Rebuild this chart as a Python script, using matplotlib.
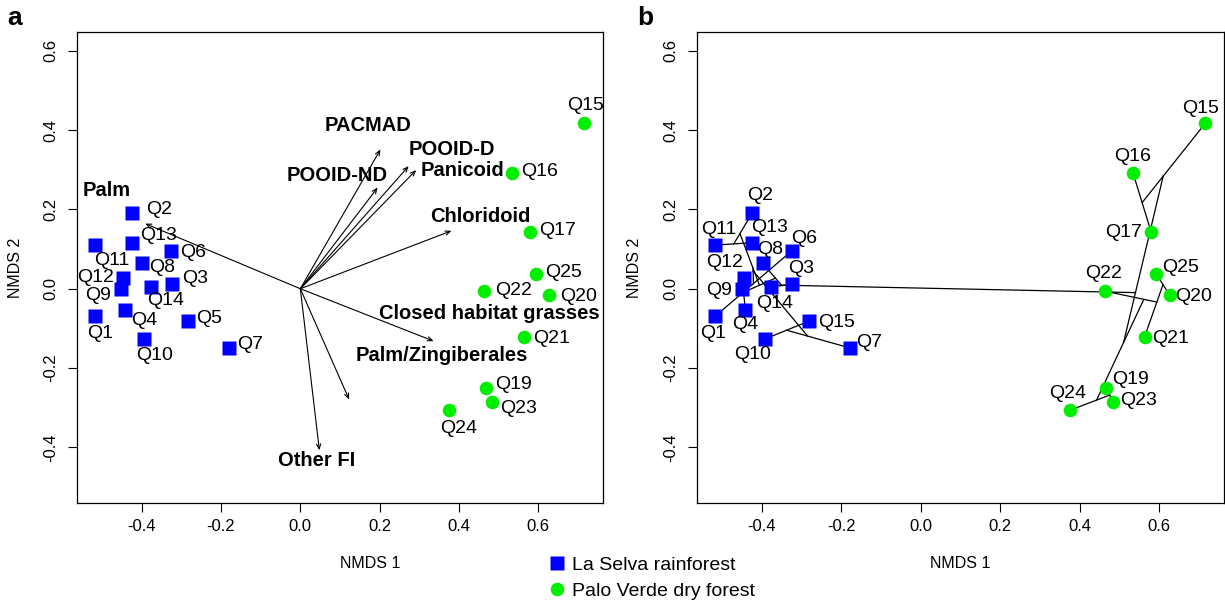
import matplotlib
matplotlib.use("Agg")
import matplotlib.pyplot as plt
from matplotlib.lines import Line2D

plt.rcParams['font.family'] = ['Liberation Sans', 'DejaVu Sans']
plt.rcParams['axes.unicode_minus'] = False

# ---- site scores (NMDS axes 1 and 2) ----
sites = ["Q1", "Q2", "Q3", "Q4", "Q5", "Q6", "Q7", "Q8", "Q9", "Q10", "Q11", "Q12",
         "Q13", "Q14", "Q15", "Q16", "Q17", "Q19", "Q20", "Q21", "Q22", "Q23", "Q24", "Q25"]
nmds1 = [-0.517, -0.424, -0.323, -0.441, -0.282, -0.325, -0.179, -0.398, -0.451, -0.393,
         -0.517, -0.446, -0.424, -0.376, 0.716, 0.534, 0.580, 0.467, 0.626, 0.563,
         0.463, 0.484, 0.376, 0.593]
nmds2 = [-0.069, 0.191, 0.011, -0.053, -0.082, 0.095, -0.149, 0.064, -0.001, -0.127,
         0.110, 0.027, 0.116, 0.005, 0.417, 0.292, 0.142, -0.250, -0.016, -0.122,
         -0.006, -0.286, -0.306, 0.037]
habitat = ["LS"] * 14 + ["PV"] * 10
# labels used on the cluster panel
tree_labels = ["Q1", "Q2", "Q3", "Q4", "Q15", "Q6", "Q7", "Q8", "Q9", "Q10", "Q11", "Q12",
               "Q13", "Q14", "Q15", "Q16", "Q17", "Q19", "Q20", "Q21", "Q22", "Q23", "Q24", "Q25"]

# ---- fitted vectors ----
vec_names = ["Palm", "PACMAD", "POOID-ND", "POOID-D", "Panicoid", "Chloridoid",
             "Closed habitat grasses", "Palm/Zingiberales", "Other FI"]
vec1 = [-0.391, 0.202, 0.195, 0.273, 0.292, 0.381, 0.336, 0.123, 0.048]
vec2 = [0.164, 0.351, 0.255, 0.309, 0.299, 0.146, -0.132, -0.279, -0.407]
vec_label_pos = [(-0.487, 0.248), (0.171, 0.412), (0.093, 0.286), (0.383, 0.351),
                 (0.410, 0.299), (0.454, 0.181), (0.477, -0.063), (0.356, -0.168),
                 (0.042, -0.433)]

# ---- hierarchical clustering merge order (site name or earlier merge number) ----
merges = [
    ("Q11", "Q13"), ("Q2", 1), ("Q9", "Q12"), ("Q4", 3), ("Q3", "Q14"), ("Q8", 5),
    (4, 6), (2, 7), ("Q1", "Q6"), (8, 9), ("Q5", "Q10"), ("Q7", 11), (10, 12),
    ("Q16", "Q17"), ("Q15", 14), ("Q19", "Q23"), ("Q24", 16), ("Q20", "Q25"),
    ("Q21", 18), ("Q22", 19), (20, 17), (15, 21), (13, 22),
]

# ---- label offsets (pixels, x right / y down) ----
off_a = {"Q1": (5, 17), "Q2": (27, -3), "Q3": (23, -6), "Q4": (19, 11), "Q5": (21, -3),
         "Q6": (22, 1), "Q7": (21, -3), "Q8": (20, 4), "Q9": (-23, 6), "Q10": (10, 16),
         "Q11": (17, 15), "Q12": (-28, -1), "Q13": (26, -7), "Q14": (14, 14),
         "Q15": (1, -18), "Q16": (27, -1), "Q17": (27, -2), "Q19": (28, -3),
         "Q20": (30, 1), "Q21": (28, 1), "Q22": (30, -1), "Q23": (26, 6),
         "Q24": (9, 18), "Q25": (28, -2)}
off_b = {"Q1": (-2, 17), "Q2": (8, -17), "Q3": (9, -16), "Q4": (0, 15), "Q5": (28, 1),
         "Q6": (13, -13), "Q7": (20, -5), "Q8": (8, -14), "Q9": (-22, 1), "Q10": (-12, 15),
         "Q11": (4, -16), "Q12": (-19, -16), "Q13": (17, -15), "Q14": (3, 17),
         "Q15": (-5, -15), "Q16": (0, -16), "Q17": (-28, 0), "Q19": (24, -8),
         "Q20": (24, 1), "Q21": (26, 1), "Q22": (-1, -18), "Q23": (25, -2),
         "Q24": (-3, -17), "Q25": (24, -7)}

BLUE = "#0000FF"
GREEN = "#00EE00"
XLIM = (-0.563, 0.763)
YLIM = (-0.540, 0.647)
TICKS = [-0.4, -0.2, 0.0, 0.2, 0.4, 0.6]
PX = 0.72  # points per pixel at 100 dpi

fig = plt.figure(figsize=(12.25, 6.02), dpi=100)
ax_a = fig.add_axes([77 / 1225, 1 - 503 / 602, 526 / 1225, 471 / 602])
ax_b = fig.add_axes([697 / 1225, 1 - 503 / 602, 527 / 1225, 471 / 602])


def style_axes(ax, xlabel_x):
    ax.set_xlim(*XLIM)
    ax.set_ylim(*YLIM)
    ax.set_xticks(TICKS)
    ax.set_yticks(TICKS)
    ax.set_xticklabels([f"{t:.1f}" for t in TICKS])
    ax.set_yticklabels([f"{t:.1f}" for t in TICKS], rotation=90, va="center")
    ax.tick_params(direction="out", length=6.5, width=0.8, labelsize=12, colors="black")
    ax.tick_params(axis="x", pad=5)
    ax.tick_params(axis="y", pad=7)
    for s in ax.spines.values():
        s.set_linewidth(0.9)
    ax.set_xlabel("NMDS 1", fontsize=11.5, va="center")
    ax.set_ylabel("NMDS 2", fontsize=11.5, va="center")
    ax.xaxis.set_label_coords(xlabel_x, -60 / 471)
    ax.yaxis.set_label_coords(-62 / 526, 0.5)


def draw_sites(ax, labels, offsets):
    for i, name in enumerate(sites):
        if habitat[i] == "LS":
            ax.plot(nmds1[i], nmds2[i], marker="s", ms=9.6, color=BLUE, mec="none", zorder=3)
        else:
            ax.plot(nmds1[i], nmds2[i], marker="o", ms=9.8, color=GREEN, mec="none", zorder=3)
        dx, dy = offsets[name]
        ax.annotate(labels[i], (nmds1[i], nmds2[i]), xytext=(dx * PX, -dy * PX),
                    textcoords="offset points", ha="center", va="center",
                    fontsize=14, zorder=4)


# ---- panel a: ordination with fitted vectors ----
style_axes(ax_a, (370 - 77) / 526)
draw_sites(ax_a, sites, off_a)
for name, vx, vy, (lx, ly) in zip(vec_names, vec1, vec2, vec_label_pos):
    ax_a.annotate("", xy=(vx, vy), xytext=(0, 0),
                  arrowprops=dict(arrowstyle="->,head_length=0.35,head_width=0.15",
                                  lw=0.8, color="black", shrinkA=0, shrinkB=0))
    ax_a.text(lx, ly, name, fontsize=14.5, fontweight="bold", ha="center", va="center")

# ---- panel b: ordination with cluster tree ----
style_axes(ax_b, 0.5)
idx = {n: i for i, n in enumerate(sites)}
cent = []
wts = []


def node(ref):
    if isinstance(ref, str):
        i = idx[ref]
        return (nmds1[i], nmds2[i]), 1
    return cent[ref - 1], wts[ref - 1]


for a, b in merges:
    (x1, y1), w1 = node(a)
    (x2, y2), w2 = node(b)
    ax_b.plot([x1, x2], [y1, y2], color="black", lw=0.9, zorder=2)
    cent.append(((x1 * w1 + x2 * w2) / (w1 + w2), (y1 * w1 + y2 * w2) / (w1 + w2)))
    wts.append(w1 + w2)

draw_sites(ax_b, tree_labels, off_b)

# ---- panel letters ----
fig.text(15 / 1225, 1 - 18 / 602, "a", fontsize=19, fontweight="bold", ha="center", va="center")
fig.text(645 / 1225, 1 - 18 / 602, "b", fontsize=19, fontweight="bold", ha="center", va="center")

# ---- legend ----
handles = [
    Line2D([], [], marker="s", ls="none", color=BLUE, mec="none", ms=9.6),
    Line2D([], [], marker="o", ls="none", color=GREEN, mec="none", ms=9.8),
]
fig.legend(handles, ["La Selva rainforest", "Palo Verde dry forest"],
           loc="upper left", bbox_to_anchor=(547 / 1225, 1 - 556 / 602),
           frameon=False, fontsize=14, handlelength=1.0, handletextpad=0.3,
           labelspacing=0.45, borderpad=0, borderaxespad=0)

fig.savefig("out.png", dpi=100)
